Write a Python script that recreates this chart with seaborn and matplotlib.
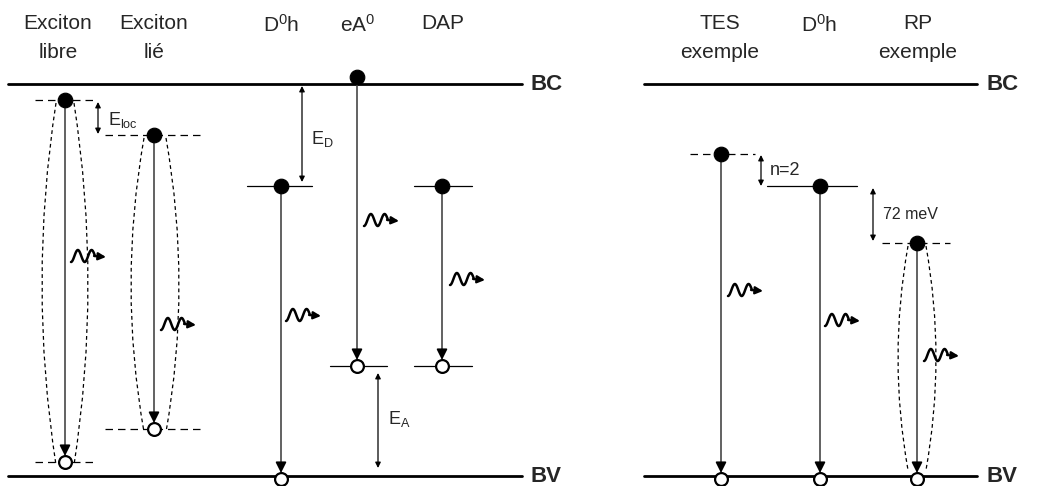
import numpy as np
import pandas as pd
import seaborn as sns
import matplotlib.pyplot as plt
from matplotlib.patches import PathPatch
from matplotlib.path import Path

# transitions (x position, electron level, hole level, in pixels from top)
names = ["Exciton libre", "Exciton lié", "D0h", "eA0", "DAP", "TES", "D0h R", "RP"]
trans_x = [65, 154, 281, 357, 442, 721, 820, 917]
elec_y = [100, 135, 186, 77, 186, 154, 186, 243]
hole_y = [462, 429, 479, 366, 366, 479, 479, 479]

# level segments: (x0, x1, y, dashed)
levels = [(35, 95, 100, True), (35, 95, 462, True),
          (105, 200, 135, True), (105, 200, 429, True),
          (247, 312, 186, False), (330, 387, 366, False),
          (414, 472, 186, False), (414, 472, 366, False),
          (690, 755, 154, True), (767, 857, 186, False), (882, 950, 243, True)]

# photon glyph start points
photon_x = [71, 161, 286, 364, 450, 728, 825, 924]
photon_y = [258, 326, 317, 222, 281, 292, 322, 357]

# excitonic envelopes: (x centre, top, bottom, half width at ends, half width at middle)
lenses = [(65, 103, 465, 9, 23), (155, 138, 432, 11, 24), (917, 246, 470, 9, 19)]

# energy separations: (x, y0, y1, label, label x, label y)
gaps = [(98, 102, 134, r"$\mathrm{E_{loc}}$", 108, 120),
        (302, 86, 182, r"$\mathrm{E_{D}}$", 311, 139),
        (378, 373, 468, r"$\mathrm{E_{A}}$", 388, 419),
        (761, 155, 186, "n=2", 770, 170),
        (873, 188, 241, "72 meV", 883, 214)]

headers = [("Exciton\nlibre", 58), ("Exciton\nlié", 154), (r"D$^{0}$h", 281),
           (r"eA$^{0}$", 358), ("DAP", 443), ("TES\nexemple", 720),
           (r"D$^{0}$h", 819), ("RP\nexemple", 918)]

BC, BV = 84, 476
panels = [(8, 522), (644, 977)]

sns.set_theme(style="white")
plt.rcParams['font.family'] = ['Liberation Sans', 'DejaVu Sans']
plt.rcParams['mathtext.fontset'] = 'custom'
plt.rcParams['mathtext.rm'] = 'Liberation Sans'
plt.rcParams['mathtext.it'] = 'Liberation Sans'

fig = plt.figure(figsize=(10.37, 4.86), dpi=100)
ax = fig.add_axes([0, 0, 1, 1])

# bands
for x0, x1 in panels:
    ax.plot([x0, x1], [BC, BC], color='black', lw=2.0, zorder=2)
    ax.plot([x0, x1], [BV, BV], color='black', lw=2.0, zorder=2)
    ax.text(x1 + 9, BC, "BC", fontsize=16, fontweight='bold', va='center', ha='left')
    ax.text(x1 + 9, BV, "BV", fontsize=16, fontweight='bold', va='center', ha='left')

# headers
for txt, x in headers:
    ax.text(x, 14, txt, fontsize=15, ha='center', va='top', linespacing=1.7)

# levels
for x0, x1, y, dashed in levels:
    ax.plot([x0, x1], [y, y], color='black', lw=0.9,
            ls=(0, (6, 4)) if dashed else '-', zorder=2)

# envelopes
for xc, top, bot, w0, w1 in lenses:
    mid = (top + bot) / 2
    for s in (-1, 1):
        c = xc + s * (2 * w1 - w0)
        p = Path([(xc + s * w0, top), (c, mid), (xc + s * w0, bot)],
                 [Path.MOVETO, Path.CURVE3, Path.CURVE3])
        ax.add_patch(PathPatch(p, fill=False, ls=(0, (3, 2.5)), lw=0.9,
                               color='black', zorder=2))

# recombination arrows
for x, ye, yh in zip(trans_x, elec_y, hole_y):
    ax.plot([x, x], [ye, yh - 12], color='#555555', lw=1.3, zorder=3)
    ax.annotate('', xy=(x, yh - 6), xytext=(x, yh - 16),
                arrowprops=dict(arrowstyle='-|>', color='black', lw=1.2,
                                mutation_scale=16, shrinkA=0, shrinkB=0), zorder=4)

# photon glyphs
t = np.linspace(0, 1, 80)
for x0, y0 in zip(photon_x, photon_y):
    wx = x0 + 24 * t
    wy = y0 - 2 + 6 * np.cos(2 * np.pi * 1.75 * t)
    ax.plot(wx, wy, color='black', lw=1.8, solid_capstyle='round', zorder=3)
    ax.annotate('', xy=(x0 + 35, y0 - 1), xytext=(x0 + 23, y0 - 2),
                arrowprops=dict(arrowstyle='-|>', color='black', lw=1.6,
                                mutation_scale=11, shrinkA=0, shrinkB=0))

# energy gaps
for x, y0, y1, lab, lx, ly in gaps:
    ax.annotate('', xy=(x, y0), xytext=(x, y1),
                arrowprops=dict(arrowstyle='<|-|>', color='black', lw=0.9,
                                mutation_scale=8, shrinkA=0, shrinkB=0))
    ax.text(lx, ly, lab, fontsize=13 if lab != "72 meV" else 11.5,
            ha='left', va='center')

# electrons and holes
df = pd.DataFrame({"x": trans_x, "e": elec_y, "h": hole_y})
sns.scatterplot(data=df, x="x", y="e", ax=ax, s=110, color='black',
                edgecolor='black', zorder=5, legend=False)
sns.scatterplot(data=df, x="x", y="h", ax=ax, s=85, color='white',
                edgecolor='black', linewidth=1.6, zorder=5, legend=False)
ax.set_xlim(0, 1037)
ax.set_ylim(486, 0)
ax.axis('off')

fig.savefig("out.png", dpi=100)
